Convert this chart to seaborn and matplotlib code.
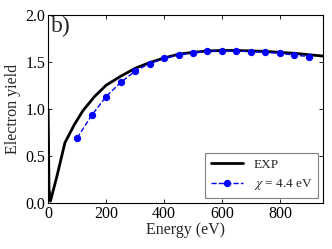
import pandas as pd
import matplotlib
matplotlib.use("Agg")
import matplotlib.pyplot as plt
import seaborn as sns

# Experimental curve
exp_energy = [0, 3, 8, 30, 58, 90, 120, 160, 200, 250, 300, 350, 400, 450,
              500, 550, 600, 650, 700, 750, 800, 850, 900, 950]
exp_yield = [0.99, 0.15, 0.02, 0.28, 0.64, 0.83, 0.98, 1.13, 1.25, 1.345, 1.43,
             1.49, 1.54, 1.58, 1.60, 1.615, 1.62, 1.62, 1.615, 1.61, 1.60,
             1.59, 1.575, 1.56]

# Simulation, chi = 4.4 eV
sim_energy = [100, 150, 200, 250, 300, 350, 400, 450, 500, 550, 600, 650,
              700, 750, 800, 850, 900]
sim_yield = [0.69, 0.93, 1.13, 1.28, 1.40, 1.48, 1.535, 1.575, 1.596, 1.614,
             1.616, 1.615, 1.607, 1.60, 1.59, 1.57, 1.555]

sns.set_style("ticks")
plt.rcParams["font.family"] = ["Liberation Serif", "DejaVu Serif"]
plt.rcParams["mathtext.fontset"] = "stix"

fig = plt.figure(figsize=(3.32, 2.49), dpi=100)
ax = fig.add_axes([0.145, 0.185, 0.829, 0.756])

sns.lineplot(x=exp_energy, y=exp_yield, ax=ax, color="black", lw=2.0,
             label="EXP", sort=False)
sns.lineplot(x=sim_energy, y=sim_yield, ax=ax, color="blue", lw=1.0,
             linestyle="--", marker="o", markersize=4.5, markeredgecolor="blue",
             label=r"$\chi$ = 4.4 eV")

ax.set_xlim(0, 950)
ax.set_ylim(0, 2.0)
ax.set_xticks([0, 200, 400, 600, 800])
ax.set_yticks([0.0, 0.5, 1.0, 1.5, 2.0])
ax.set_yticklabels(["0.0", "0.5", "1.0", "1.5", "2.0"])
ax.tick_params(direction="in", length=3, width=0.6, labelsize=11.5,
               top=True, right=True, pad=2, colors="black")
for s in ax.spines.values():
    s.set_color("black")
    s.set_linewidth(0.8)

ax.set_xlabel("Energy (eV)", fontsize=11.5, labelpad=0)
ax.set_ylabel("Electron yield", fontsize=11.5, labelpad=3)
ax.text(0.01, 0.995, "b)", transform=ax.transAxes, fontsize=17,
        va="top", ha="left")

leg = ax.legend(loc="lower right", fontsize=9.5, fancybox=False,
                framealpha=1, edgecolor="gray", handlelength=2.5,
                borderaxespad=0.4)
leg.get_frame().set_linewidth(0.8)

plt.savefig("out.png", dpi=100)
plt.close()
